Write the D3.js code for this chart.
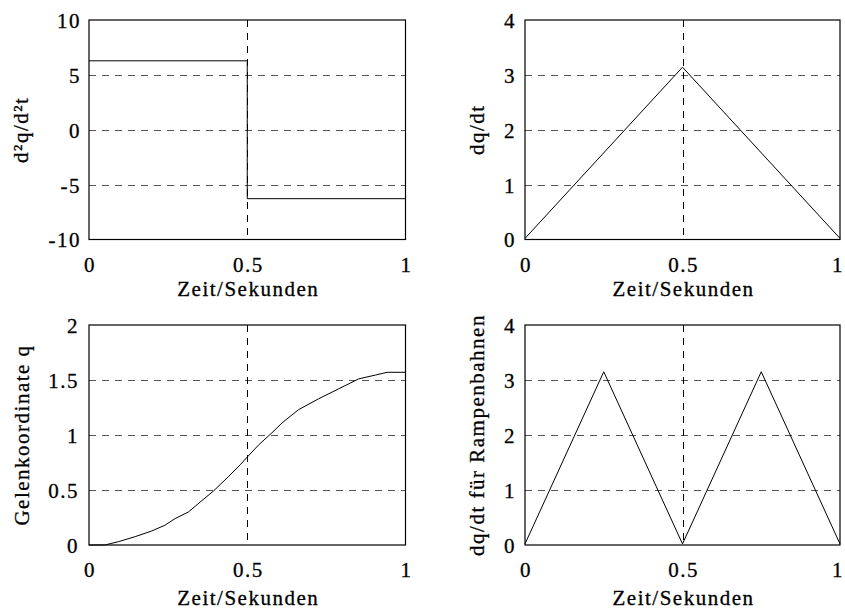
<!DOCTYPE html>
<html>
<head>
<meta charset="utf-8">
<script src="https://cdn.jsdelivr.net/npm/d3@7"></script>
<style>
  html, body { margin: 0; padding: 0; background: #fff; }
  svg text { font-family: "Liberation Serif", "Times New Roman", Times, serif; font-size: 21px; letter-spacing: 1.5px; fill: #000; stroke: #000; stroke-width: 0.3px; }
</style>
</head>
<body>
<svg id="chart" width="845" height="611"></svg>
<script>
// ---- Data ----
const xTicks = [0, 0.5, 1];
const xTickLabels = ["0", "0.5", "1"];
const xLabel = "Zeit/Sekunden";

// Panel 1: d²q/d²t (step)
const accT = [0, 0.5, 0.5, 1];
const accV = [6.28, 6.28, -6.28, -6.28];
const accTicks = [-10, -5, 0, 5, 10];
const accTickLabels = ["-10", "-5", "0", "5", "10"];

// Panel 2: dq/dt (triangle)
const velT = [0, 0.5, 1];
const velV = [0.02, 3.14, 0.02];
const velTicks = [0, 1, 2, 3, 4];
const velTickLabels = ["0", "1", "2", "3", "4"];

// Panel 3: Gelenkoordinate q
const posT = [0, 0.05, 0.093, 0.146, 0.198, 0.24, 0.272, 0.314, 0.351, 0.393, 0.44, 0.478, 0.5, 0.536, 0.578, 0.61, 0.662, 0.726, 0.789, 0.852, 0.905, 0.942, 1.0];
const posV = [0, 0, 0.03, 0.076, 0.127, 0.18, 0.24, 0.30, 0.39, 0.49, 0.62, 0.73, 0.80, 0.91, 1.02, 1.11, 1.23, 1.33, 1.42, 1.51, 1.545, 1.57, 1.57];
const posTicks = [0, 0.5, 1, 1.5, 2];
const posTickLabels = ["0", "0.5", "1", "1.5", "2"];

// Panel 4: dq/dt für Rampenbahnen (two triangles)
const rampT = [0, 0.25, 0.5, 0.75, 1];
const rampV = [0.02, 3.15, 0.02, 3.15, 0.02];
const rampTicks = [0, 1, 2, 3, 4];
const rampTickLabels = ["0", "1", "2", "3", "4"];

const panels = [
  { t: accT, v: accV, ticks: accTicks, labels: accTickLabels, ylabel: "d\u00B2q/d\u00B2t",
    box: [89, 20, 405.5, 239.5], ylabX: -61, titleDy: 56, tickDx: -8 },
  { t: velT, v: velV, ticks: velTicks, labels: velTickLabels, ylabel: "dq/dt",
    box: [525, 20, 840, 239.5], ylabX: -41, titleDy: 56, tickDx: -9 },
  { t: posT, v: posV, ticks: posTicks, labels: posTickLabels, ylabel: "Gelenkoordinate q",
    box: [89, 325, 405.5, 545], ylabX: -60, titleDy: 60, tickDx: -10 },
  { t: rampT, v: rampV, ticks: rampTicks, labels: rampTickLabels, ylabel: "dq/dt f\u00FCr Rampenbahnen",
    box: [525, 325, 840, 545], ylabX: -41, titleDy: 60, tickDx: -9 }
];

const svg = d3.select("#chart");

panels.forEach(p => {
  const [x0, y0, x1, y1] = p.box;
  const w = x1 - x0, h = y1 - y0;
  const g = svg.append("g").attr("transform", `translate(${x0},${y0})`);
  const x = d3.scaleLinear().domain([0, 1]).range([0, w]);
  const y = d3.scaleLinear().domain(d3.extent(p.ticks)).range([h, 0]);

  // horizontal grid (interior ticks)
  g.selectAll("line.hgrid").data(p.ticks.slice(1, -1)).enter().append("line")
    .attr("x1", 0).attr("x2", w)
    .attr("y1", d => Math.round(y(d)) + 0.5).attr("y2", d => Math.round(y(d)) + 0.5)
    .attr("stroke", "#555").attr("stroke-width", 1).attr("stroke-dasharray", "7,6");
  // vertical grid
  g.selectAll("line.vgrid").data(xTicks.slice(1, -1)).enter().append("line")
    .attr("x1", d => Math.round(x(d)) + 0.5).attr("x2", d => Math.round(x(d)) + 0.5)
    .attr("y1", 0).attr("y2", h)
    .attr("stroke", "#000").attr("stroke-width", 1).attr("stroke-dasharray", "7,6");

  // data line
  const pts = p.t.map((t, i) => [t, p.v[i]]);
  g.append("path").datum(pts)
    .attr("d", d3.line().x(d => x(d[0])).y(d => y(d[1])))
    .attr("fill", "none").attr("stroke", "#000").attr("stroke-width", 1);

  // box
  g.append("rect").attr("x", 0).attr("y", 0).attr("width", w).attr("height", h)
    .attr("fill", "none").attr("stroke", "#000").attr("stroke-width", 1.2);

  // y tick labels
  g.selectAll("text.yt").data(p.ticks).enter().append("text")
    .attr("x", p.tickDx).attr("y", d => y(d)).attr("dy", "0.38em")
    .attr("text-anchor", "end")
    .text((d, i) => p.labels[i]);

  // x tick labels
  g.selectAll("text.xt").data(xTicks).enter().append("text")
    .attr("x", (d, i) => x(d) + (i === xTicks.length - 1 && x0 > 400 ? -2 : 1)).attr("y", h + 32)
    .attr("text-anchor", "middle")
    .text((d, i) => xTickLabels[i]);

  // x label
  g.append("text").attr("x", w / 2 + 1).attr("y", h + p.titleDy)
    .attr("text-anchor", "middle").text(xLabel);

  // y label
  g.append("text")
    .attr("transform", `translate(${p.ylabX},${h / 2}) rotate(-90)`)
    .attr("text-anchor", "middle").text(p.ylabel);
});
</script>
</body>
</html>
